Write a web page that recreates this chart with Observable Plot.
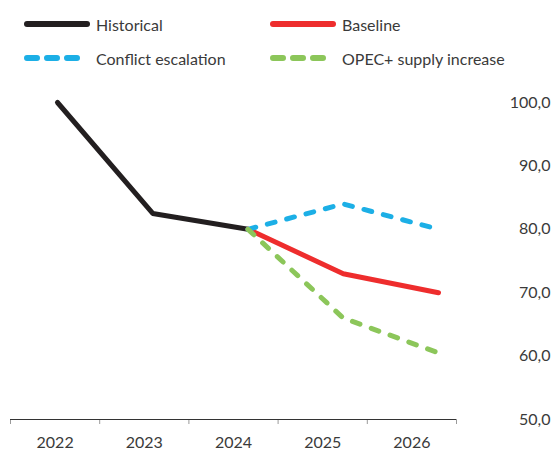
<!DOCTYPE html>
<html><head><meta charset="utf-8">
<script src="https://cdn.jsdelivr.net/npm/d3@7"></script>
<script src="https://cdn.jsdelivr.net/npm/@observablehq/plot@0.6"></script>
<style>
body{margin:0;background:#fff;font-family:Lato,"Open Sans",sans-serif;}
#wrap{position:relative;width:556px;height:450px;overflow:hidden;}
#legend{position:absolute;left:0;top:0;width:556px;height:80px;}
.item{position:absolute;display:flex;align-items:center;height:20px;font-size:16px;color:#3a3a3a;white-space:nowrap;}
.item svg{display:block;margin-right:6px;}
#plots{position:absolute;left:0;top:80px;width:556px;height:370px;}
#plots svg{position:absolute;left:0;top:0;}
</style></head><body>
<div id="wrap"><div id="legend"></div><div id="plots"></div></div>
<script>
const years = [2022, 2023, 2024, 2025, 2026];
const historical = [100.0, 82.5, 80.0, null, null];
const baseline = [null, null, 80.0, 73.0, 70.0];
const conflict = [null, null, 80.0, 84.0, 80.0];
const opec = [null, null, 80.0, 66.0, 60.5];
const seriesNames = ["Historical", "Baseline", "Conflict escalation", "OPEC+ supply increase"];
const seriesColors = ["#231f20", "#ee2d2d", "#1cafe6", "#8cc65a"];
const seriesDashed = [false, false, true, true];
const yTicks = [50, 60, 70, 80, 90, 100];

const seriesValues = [historical, baseline, conflict, opec];
const fmt = d => d.toFixed(1).replace(".", ",");

// Legend
const legend = document.getElementById("legend");
const legendPos = [[24, 14], [270, 14], [24, 48], [270, 48]];
seriesNames.forEach((name, i) => {
  const div = document.createElement("div");
  div.className = "item";
  div.style.left = legendPos[i][0] + "px";
  div.style.top = legendPos[i][1] + "px";
  const ns = "http://www.w3.org/2000/svg";
  const s = document.createElementNS(ns, "svg");
  s.setAttribute("width", 66); s.setAttribute("height", 10);
  const l = document.createElementNS(ns, "line");
  l.setAttribute("x1", 3); l.setAttribute("x2", 63);
  l.setAttribute("y1", 5); l.setAttribute("y2", 5);
  l.setAttribute("stroke", seriesColors[i]);
  l.setAttribute("stroke-width", 6);
  l.setAttribute("stroke-linecap", "round");
  if (seriesDashed[i]) l.setAttribute("stroke-dasharray", "10,10");
  s.appendChild(l);
  div.appendChild(s);
  const t = document.createElement("span");
  t.textContent = name;
  div.appendChild(t);
  legend.appendChild(div);
});

const W = 556, H = 370, MT = 22, MB = 31;
const boundaries = years.map(y => y - 0.5).concat([years[years.length - 1] + 0.5]);

const axisPlot = Plot.plot({
  width: W, height: H,
  marginLeft: 10, marginRight: 100, marginTop: MT, marginBottom: MB,
  style: {fontFamily: "Lato, 'Open Sans', sans-serif", fontSize: "16px", color: "#3a3a3a", background: "transparent"},
  x: {domain: [years[0] - 0.5, years[years.length - 1] + 0.5], axis: null},
  y: {domain: [50, 100], axis: null},
  marks: [
    Plot.axisX(boundaries, {tickSize: 5, tickFormat: () => "", stroke: "#9a9a9a"}),
    Plot.axisX(years, {tickSize: 0, tickPadding: 17, tickFormat: d => String(d), fontSize: 16, fill: "#3a3a3a"}),
    Plot.axisY(yTicks, {anchor: "right", tickSize: 0, tickPadding: 94, textAnchor: "end", tickFormat: fmt, fontSize: 16, fill: "#3a3a3a"}),
    Plot.ruleY([50], {stroke: "#333"})
  ]
});

const lineMarks = seriesValues.map((vals, i) => {
  const data = years.map((yr, j) => ({year: yr, value: vals[j]})).filter(d => d.value != null);
  return Plot.line(data, {
    x: "year", y: "value",
    stroke: seriesColors[i], strokeWidth: 5,
    strokeLinecap: "round", strokeLinejoin: "round",
    strokeDasharray: seriesDashed[i] ? "8,12" : null
  });
});

const linePlot = Plot.plot({
  width: W, height: H,
  marginLeft: 57, marginRight: 118, marginTop: MT, marginBottom: MB,
  style: {background: "transparent"},
  x: {domain: [years[0], years[years.length - 1]], axis: null},
  y: {domain: [50, 100], axis: null},
  marks: lineMarks
});

const plots = document.getElementById("plots");
plots.appendChild(axisPlot);
plots.appendChild(linePlot);
</script>
</body></html>
